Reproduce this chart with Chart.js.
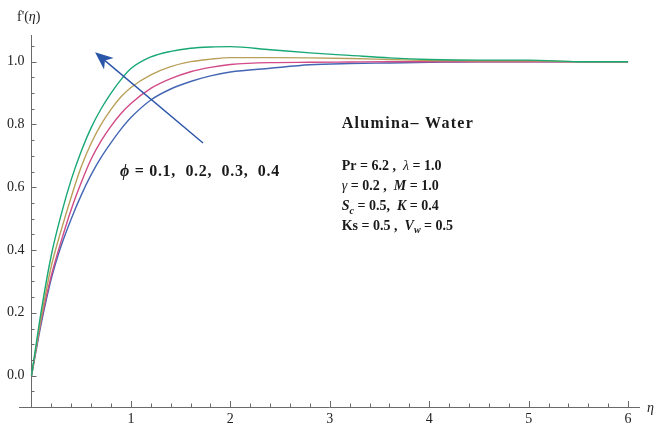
<!DOCTYPE html>
<html>
<head>
<meta charset="utf-8">
<script src="https://cdn.jsdelivr.net/npm/chart.js@4.4.1/dist/chart.umd.min.js"></script>
<style>
  html, body { margin: 0; padding: 0; background: #fff; }
  #wrap { width: 659px; height: 425px; }
</style>
</head>
<body>
<div id="wrap"><canvas id="chart"></canvas></div>
<script>
// similarity variable and velocity profiles f'(eta) for each phi
const eta = [0, 0.1, 0.2, 0.3, 0.4, 0.5, 0.6, 0.7, 0.8, 0.9, 1.0, 1.2, 1.4, 1.6, 1.8, 2.0, 2.4, 2.8, 3.2, 3.6, 4.0, 4.5, 5.0, 5.5, 6.0];
const phi01 = [0, 0.17, 0.31, 0.415, 0.50, 0.575, 0.64, 0.695, 0.742, 0.785, 0.822, 0.878, 0.913, 0.937, 0.955, 0.967, 0.979, 0.990, 0.994, 0.996, 0.998, 1.0, 1.0, 1.0, 1.0];
const phi02 = [0, 0.18, 0.32, 0.43, 0.53, 0.615, 0.69, 0.748, 0.795, 0.835, 0.867, 0.915, 0.946, 0.968, 0.982, 0.991, 0.997, 0.998, 0.999, 1.0, 1.0, 1.0, 1.0, 1.0, 1.0];
const phi03 = [0, 0.19, 0.35, 0.465, 0.57, 0.665, 0.74, 0.80, 0.848, 0.888, 0.918, 0.958, 0.984, 1.0, 1.008, 1.013, 1.013, 1.012, 1.010, 1.007, 1.004, 1.003, 1.003, 1.0, 1.0];
const phi04 = [0, 0.21, 0.385, 0.515, 0.625, 0.715, 0.79, 0.85, 0.90, 0.943, 0.978, 1.015, 1.033, 1.043, 1.047, 1.048, 1.038, 1.028, 1.020, 1.012, 1.007, 1.005, 1.005, 1.0, 1.0];

const xTicks = [1, 2, 3, 4, 5, 6];
const yTicks = [0, 0.2, 0.4, 0.6, 0.8, 1.0];

const axisColor = '#6a6a6a';
const serif = '"Liberation Serif", "DejaVu Serif", serif';

const series = [
  { data: phi01, color: '#4466b4', order: 3 },
  { data: phi02, color: '#d24a86', order: 2 },
  { data: phi03, color: '#b9a05a', order: 1 },
  { data: phi04, color: '#18a874', order: 0 }
];

// draw a run of styled text pieces one after another
function drawRich(ctx, x, y, pieces, size) {
  let cx = x;
  pieces.forEach(p => {
    const s = p.sub ? size * 0.72 : size;
    ctx.font = (p.it ? 'italic ' : '') + (p.thin ? '' : 'bold ') + s + 'px ' + serif;
    ctx.fillText(p.t, cx, p.sub ? y + size * 0.3 : y);
    cx += ctx.measureText(p.t).width;
  });
}

const paramLines = [
  [{ t: 'Pr = 6.2 ,  ' }, { t: 'λ', it: true, thin: true }, { t: ' = 1.0' }],
  [{ t: 'γ', it: true, thin: true }, { t: ' = 0.2 ,  ' }, { t: 'M', it: true }, { t: ' = 1.0' }],
  [{ t: 'S', it: true }, { t: 'c', it: true, sub: true }, { t: ' = 0.5,  ' }, { t: 'K', it: true }, { t: ' = 0.4' }],
  [{ t: 'Ks = 0.5 ,  ' }, { t: 'V', it: true }, { t: 'w', it: true, sub: true }, { t: ' = 0.5' }]
];
const paramRows = [0.668, 0.602, 0.538, 0.475];

// inward tick marks, y labels, annotations and arrow
const decorations = {
  id: 'decorations',
  afterDraw(chart) {
    const { ctx, scales: { x, y } } = chart;
    const x0 = x.getPixelForValue(0);
    const yb = y.getPixelForValue(-0.1);
    ctx.save();
    ctx.strokeStyle = axisColor;
    ctx.lineWidth = 1;
    ctx.beginPath();
    for (let i = 1; i <= 30; i++) {
      const v = i * 0.2;
      const px = Math.round(x.getPixelForValue(v)) + 0.5;
      const len = i % 5 === 0 ? 6 : 3.5;
      ctx.moveTo(px, yb);
      ctx.lineTo(px, yb - len);
    }
    for (let i = -1; i <= 21; i++) {
      const v = i * 0.05;
      const py = Math.round(y.getPixelForValue(v)) + 0.5;
      const len = i % 4 === 0 ? 5 : 3;
      ctx.moveTo(x0, py);
      ctx.lineTo(x0 + len, py);
    }
    ctx.stroke();

    ctx.fillStyle = '#222';
    ctx.textBaseline = 'middle';
    ctx.font = '14px ' + serif;
    ctx.textAlign = 'right';
    y.ticks.forEach(t => {
      ctx.fillText(t.value.toFixed(1), x0 - 7, y.getPixelForValue(t.value));
    });

    // axis titles
    ctx.textAlign = 'left';
    ctx.fillText("f'(", 17, 17);
    let w = ctx.measureText("f'(").width;
    ctx.font = 'italic 14px ' + serif;
    ctx.fillText('η', 17 + w, 17);
    w += ctx.measureText('η').width;
    ctx.font = '14px ' + serif;
    ctx.fillText(')', 17 + w, 17);
    ctx.font = 'italic 14px ' + serif;
    ctx.fillText('η', x.right + 8, yb + 1);

    // labels
    ctx.fillStyle = '#1a1a1a';
    ctx.font = 'bold 16px ' + serif;
    ctx.letterSpacing = '1.3px';
    ctx.fillText('Alumina– Water', x.getPixelForValue(3.12), y.getPixelForValue(0.803));
    ctx.letterSpacing = '0.7px';
    drawRich(ctx, x.getPixelForValue(0.89), y.getPixelForValue(0.65),
      [{ t: 'ϕ', it: true }, { t: ' = 0.1,  0.2,  0.3,  0.4' }], 16);
    ctx.letterSpacing = '0px';
    paramLines.forEach((line, i) => {
      drawRich(ctx, x.getPixelForValue(3.12), y.getPixelForValue(paramRows[i]), line, 14);
    });

    // arrow across the profiles
    const tx = x.getPixelForValue(1.725), ty = y.getPixelForValue(0.741);
    const hx = x.getPixelForValue(0.639), hy = y.getPixelForValue(1.030);
    const ang = Math.atan2(hy - ty, hx - tx);
    const hl = 18, hw = 7.5;
    const bx = hx - hl * Math.cos(ang), by = hy - hl * Math.sin(ang);
    const nx = hx - hl * 0.72 * Math.cos(ang), ny = hy - hl * 0.72 * Math.sin(ang);
    ctx.strokeStyle = '#2a55a8';
    ctx.fillStyle = '#2a55a8';
    ctx.lineWidth = 1.4;
    ctx.beginPath();
    ctx.moveTo(tx, ty);
    ctx.lineTo(nx, ny);
    ctx.stroke();
    ctx.beginPath();
    ctx.moveTo(hx, hy);
    ctx.lineTo(bx - hw * Math.sin(ang), by + hw * Math.cos(ang));
    ctx.lineTo(nx, ny);
    ctx.lineTo(bx + hw * Math.sin(ang), by - hw * Math.cos(ang));
    ctx.closePath();
    ctx.fill();
    ctx.restore();
  }
};

new Chart(document.getElementById('chart'), {
  type: 'line',
  data: {
    datasets: series.map(s => ({
      data: eta.map((v, i) => ({ x: v, y: s.data[i] })),
      borderColor: s.color,
      borderWidth: 1.4,
      pointRadius: 0,
      fill: false,
      order: s.order,
      cubicInterpolationMode: 'monotone'
    }))
  },
  options: {
    responsive: true,
    maintainAspectRatio: false,
    animation: false,
    layout: { padding: { left: 19, right: 20, top: 35, bottom: 18 } },
    plugins: { legend: { display: false }, tooltip: { enabled: false } },
    scales: {
      x: {
        type: 'linear',
        min: -0.126,
        max: 6.11,
        position: { y: -0.1 },
        afterBuildTicks: scale => { scale.ticks = xTicks.map(v => ({ value: v })); },
        grid: { drawOnChartArea: false, drawTicks: false },
        border: { color: axisColor, width: 1 },
        ticks: { color: '#222', padding: 4, font: { family: serif, size: 14 }, maxRotation: 0 }
      },
      y: {
        type: 'linear',
        min: -0.1,
        max: 1.085,
        position: { x: 0 },
        afterBuildTicks: scale => { scale.ticks = yTicks.map(v => ({ value: v })); },
        grid: { drawOnChartArea: false, drawTicks: false },
        border: { color: axisColor, width: 1 },
        ticks: { display: false }
      }
    }
  },
  plugins: [decorations]
});
</script>
</body>
</html>
